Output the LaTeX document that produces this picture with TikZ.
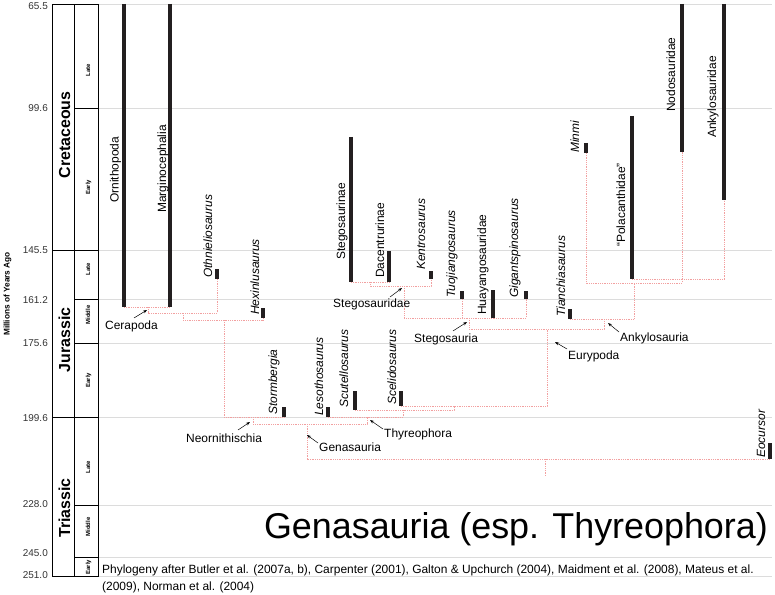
\documentclass[tikz,border=0pt]{standalone}
\usepackage{fontspec}
\setmainfont{Liberation Sans}
\usetikzlibrary{arrows.meta,calc}
\definecolor{barc}{HTML}{231F20}
\definecolor{conc}{HTML}{F2A0A0}
\definecolor{gridc}{HTML}{DCDCDC}
\begin{document}
\begin{tikzpicture}[x=1bp,y=-1bp,
 gridline/.style={draw=gridc,line width=0.8bp},
 taxbar/.style={draw=barc,line width=4.5bp},
 conn/.style={draw=conc,dash pattern=on 1bp off 0.8bp,line width=0.9bp},
 rlab/.style={rotate=90,anchor=base west,inner sep=0pt,font=\fontsize{12}{14}\selectfont},
 rital/.style={rotate=90,anchor=base west,inner sep=0pt,font=\fontsize{12}{14}\selectfont\itshape},
 clab/.style={anchor=base west,inner sep=0pt,font=\fontsize{12}{14}\selectfont},
 ptr/.style={draw=black,line width=0.5bp,-{Stealth[length=4bp,width=3bp]}},
 tsbox/.style={draw=black,line width=0.8bp},
 agelab/.style={anchor=east,inner sep=0pt,font=\fontsize{10}{12}\selectfont,text=black!80},
 perlab/.style={rotate=90,anchor=base,inner sep=0pt,font=\fontsize{16}{18}\selectfont\bfseries},
 eplab/.style={rotate=90,anchor=base,inner sep=0pt,font=\fontsize{6}{7}\selectfont\bfseries},
]
\useasboundingbox (0,0) rectangle (775,595);
% grid lines
\foreach \yy in {4,108,250,299,343,417,505,557,576} \draw[gridline] (98,\yy) -- (772,\yy);
% timescale
\draw[tsbox] (52,4) rectangle (74.5,250);
\draw[tsbox] (52,250) rectangle (74.5,417);
\draw[tsbox] (52,417) rectangle (74.5,576);
\draw[tsbox] (74.5,4) rectangle (98,108);
\draw[tsbox] (74.5,108) rectangle (98,250);
\draw[tsbox] (74.5,250) rectangle (98,299);
\draw[tsbox] (74.5,299) rectangle (98,343);
\draw[tsbox] (74.5,343) rectangle (98,417);
\draw[tsbox] (74.5,417) rectangle (98,505);
\draw[tsbox] (74.5,505) rectangle (98,557);
\draw[tsbox] (74.5,557) rectangle (98,576);
\node[perlab] (pK) at (70,135) {Cretaceous};
\node[perlab] (pJ) at (70,340) {Jurassic};
\node[perlab] (pT) at (70,508) {Triassic};
\node[eplab] (eK2) at (90,70) {Late};
\node[eplab] (eK1) at (90,187) {Early};
\node[eplab] (eJ3) at (90,269) {Late};
\node[eplab] (eJ2) at (90,315) {Middle};
\node[eplab] (eJ1) at (90,380) {Early};
\node[eplab] (eT3) at (90,467) {Late};
\node[eplab] (eT2) at (90,527) {Middle};
\node[eplab] (eT1) at (90,567) {Early};
\node[agelab] (a1) at (48,6) {65.5};
\node[agelab] (a2) at (48,108) {99.6};
\node[agelab] (a3) at (48,250) {145.5};
\node[agelab] (a4) at (48,300) {161.2};
\node[agelab] (a5) at (48,343) {175.6};
\node[agelab] (a6) at (48,418) {199.6};
\node[agelab] (a7) at (48,504) {228.0};
\node[agelab] (a8) at (48,553) {245.0};
\node[agelab] (a9) at (48,575) {251.0};
\node[rotate=90,anchor=center,inner sep=0pt,font=\fontsize{8.3}{10}\selectfont\bfseries] (mya) at (7.5,294) {Millions of Years Ago};
% taxon bars
\coordinate (ornT) at (124,4);   \coordinate (ornB) at (124,307);
\coordinate (marT) at (170,4);   \coordinate (marB) at (170,307);
\coordinate (othT) at (217,269); \coordinate (othB) at (217,279);
\coordinate (hexT) at (263,308); \coordinate (hexB) at (263,318);
\coordinate (stoT) at (284,407); \coordinate (stoB) at (284,417);
\coordinate (lesT) at (328,407); \coordinate (lesB) at (328,417);
\coordinate (scuT) at (355,391); \coordinate (scuB) at (355,410);
\coordinate (sceT) at (401,391); \coordinate (sceB) at (401,406);
\coordinate (stnT) at (351,137); \coordinate (stnB) at (351,282);
\coordinate (dacT) at (389,251); \coordinate (dacB) at (389,282);
\coordinate (kenT) at (431,271); \coordinate (kenB) at (431,279);
\coordinate (tuoT) at (462,291); \coordinate (tuoB) at (462,299);
\coordinate (huaT) at (493,290); \coordinate (huaB) at (493,318);
\coordinate (gigT) at (526,291); \coordinate (gigB) at (526,299);
\coordinate (tiaT) at (570,309); \coordinate (tiaB) at (570,319);
\coordinate (minT) at (586,143); \coordinate (minB) at (586,153);
\coordinate (polT) at (632,116); \coordinate (polB) at (632,279);
\coordinate (nodT) at (682,4);   \coordinate (nodB) at (682,152);
\coordinate (ankT) at (724,4);   \coordinate (ankB) at (724,200);
\coordinate (eocT) at (770,443); \coordinate (eocB) at (770,459);
% branch points
\coordinate (nCera) at (148,307);
\coordinate (nA) at (183,313);
\coordinate (nB) at (224,320);
\coordinate (nNeo) at (253,417);
\coordinate (nGen) at (307,424);
\coordinate (nThy) at (367,417);
\coordinate (nC) at (403,417);
\coordinate (nD) at (454,410);
\coordinate (nEur) at (547,406);
\coordinate (nSta) at (469,318);
\coordinate (nStd) at (404,286);
\coordinate (nStd2) at (370,282);
\coordinate (nAnk) at (604,329);
\coordinate (nE) at (634,319);
\coordinate (nF) at (634,283);
\coordinate (nRoot) at (545,459);
\coordinate (nRootEnd) at (545,476);
% connectors
\draw[conn] (ornB) -- (marB);
\draw[conn] (nCera) -- ++(0,6) -| (othB);
\draw[conn] (nA) -- ++(0,7) -| (hexB);
\draw[conn] (nB) |- (stoB);
\draw[conn] (nNeo) -- ++(0,7) -| (nThy);
\draw[conn] (nGen) |- (eocB);
\draw[conn] (nRoot) -- (nRootEnd);
\draw[conn] (lesB) -| ($(nC)+(0,-7)$);
\draw[conn] (scuB) -| ($(nD)+(0,-4)$);
\draw[conn] (sceB) -| (nEur |- nAnk);
\draw[conn] (nSta) |- (nAnk) -- ++(0,-10);
\draw[conn] (nStd) |- (gigB |- huaB) -- (gigB);
\draw[conn] (tuoB) -- (tuoB |- huaB);
\draw[conn] (stnB) -- (dacB);
\draw[conn] (nStd2) -- ++(0,4) -| (kenB);
\draw[conn] (tiaB) -| (nE);
\draw[conn] (nE) -- (nF);
\draw[conn] (minB) |- (nodB |- nF) -- (nodB);
\draw[conn] (polB) -| (ankB);
% bars drawn over connectors
\foreach \t in {orn,mar,oth,hex,sto,les,scu,sce,stn,dac,ken,tuo,hua,gig,tia,min,pol,nod,ank,eoc}
  \draw[taxbar] (\t T) -- (\t B);
% taxon labels
\node[rlab] (lOrn) at (118.5,203) {Ornithopoda};
\node[rlab] (lMarg) at (166,213) {Marginocephalia};
\node[rital] (lOthn) at (212,278) {Othnieliosaurus};
\node[rital] (lHex) at (259,315) {Hexinlusaurus};
\node[rital] (lStorm) at (277,415) {Stormbergia};
\node[rital] (lLeso) at (323,416) {Lesothosaurus};
\node[rital] (lScut) at (348,408) {Scutellosaurus};
\node[rital] (lScel) at (396,405) {Scelidosaurus};
\node[rlab] (lStegn) at (345,260) {Stegosaurinae};
\node[rlab] (lDac) at (384,278) {Dacentrurinae};
\node[rital] (lKent) at (425,270) {Kentrosaurus};
\node[rital] (lTuo) at (455,298) {Tuojiangosaurus};
\node[rlab] (lHuay) at (486,315) {Huayangosauridae};
\node[rital] (lGig) at (518,298) {Gigantspinosaurus};
\node[rital] (lTian) at (565,317) {Tianchiasaurus};
\node[rital] (lMinmi) at (579,153) {Minmi};
\node[rlab] (lPola) at (625,247) {“Polacanthidae”};
\node[rlab] (lNodo) at (675,112) {Nodosauridae};
\node[rlab] (lAnky) at (716,138) {Ankylosauridae};
\node[rital] (lEoc) at (765,458) {Eocursor};
% clade labels and pointers
\node[clab] (tCera) at (105,329) {Cerapoda};
\node[clab] (tNeo) at (186,442) {Neornithischia};
\node[clab] (tThy) at (384,437) {Thyreophora};
\node[clab] (tGen) at (319,451) {Genasauria};
\node[clab] (tStd) at (333,307) {Stegosauridae};
\node[clab] (tSta) at (414,342) {Stegosauria};
\node[clab] (tEur) at (568,359) {Eurypoda};
\node[clab] (tAnk) at (620,341) {Ankylosauria};
\coordinate (pCera1) at (134,318); \coordinate (pCera2) at (147,310);
\coordinate (pNeo1) at (238,430);  \coordinate (pNeo2) at (250,422);
\coordinate (pGen1) at (318,443);  \coordinate (pGen2) at (307,435);
\coordinate (pThy1) at (383,429);  \coordinate (pThy2) at (370,420);
\coordinate (pStd1) at (390,297);  \coordinate (pStd2) at (402,288);
\coordinate (pSta1) at (453,331);  \coordinate (pSta2) at (467,322);
\coordinate (pEur1) at (567,349);  \coordinate (pEur2) at (555,342);
\coordinate (pAnk1) at (619,332);  \coordinate (pAnk2) at (608,323);
\draw[ptr] (pCera1) -- (pCera2);
\draw[ptr] (pNeo1) -- (pNeo2);
\draw[ptr] (pGen1) -- (pGen2);
\draw[ptr] (pThy1) -- (pThy2);
\draw[ptr] (pStd1) -- (pStd2);
\draw[ptr] (pSta1) -- (pSta2);
\draw[ptr] (pEur1) -- (pEur2);
\draw[ptr] (pAnk1) -- (pAnk2);
% title and caption
\node[anchor=base east,inner sep=0pt,font=\fontsize{36}{40}\selectfont] (title) at (768,538) {Genasauria (esp. Thyreophora)};
\node[anchor=base west,inner sep=0pt,font=\fontsize{12}{14}\selectfont] (cap1) at (102,573) {Phylogeny after Butler et al. (2007a, b), Carpenter (2001), Galton \& Upchurch (2004), Maidment et al. (2008), Mateus et al.};
\node[anchor=base west,inner sep=0pt,font=\fontsize{12}{14}\selectfont] (cap2) at (102,590) {(2009), Norman et al. (2004)};
\end{tikzpicture}
\end{document}
